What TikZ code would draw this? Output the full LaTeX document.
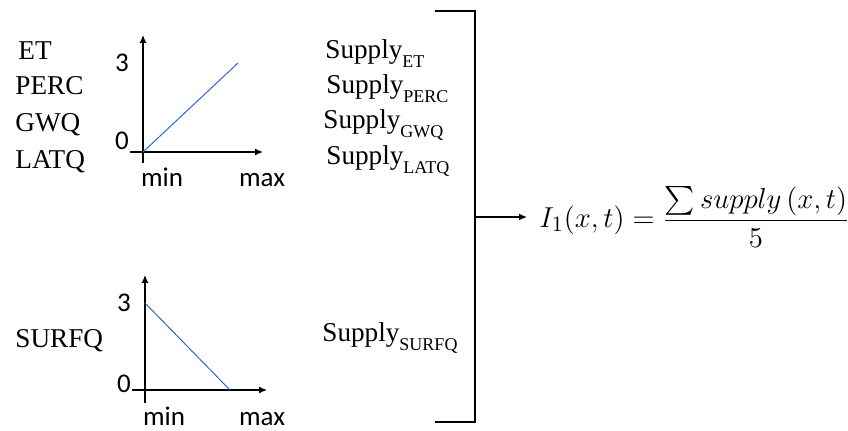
\documentclass[tikz,border=0pt]{standalone}
\usepackage{amsmath}
\usepackage{fontspec}
\setmainfont{Liberation Serif}
\newfontfamily\axisfont{Carlito}
\usetikzlibrary{arrows.meta,positioning}
\definecolor{lineblue}{RGB}{45,105,205}
\newcommand{\supplyof}[1]{Supply\raisebox{-0.3em}{\fontsize{9}{10}\selectfont #1}}

\begin{document}
\begin{tikzpicture}[x=0.5pt,y=-0.5pt,>={Latex[length=4pt,width=3.4pt]}]
\tikzset{var/.style={anchor=base west,inner sep=0pt,font=\fontsize{13.6}{15}\selectfont},
 sup/.style={anchor=base west,inner sep=0pt,font=\fontsize{13.6}{15}\selectfont},
 tick/.style={inner sep=0pt,font=\axisfont\fontsize{13.5}{15}\selectfont},
 axis/.style={->,line width=0.55pt},
 curve/.style={lineblue,line width=0.5pt}}
\useasboundingbox (0,0) rectangle (848,431);
% variable names
\node[var] (et) at (18,60) {ET};
\node[var] (perc) at (15,95) {PERC};
\node[var] (gwq) at (15,132) {GWQ};
\node[var] (latq) at (15,169) {LATQ};
\node[var] (surfq) at (15,348) {SURFQ};
% increasing graph
\coordinate (o1) at (143,152);
\draw[axis] (143,163) -- (143,35);
\draw[axis] (130,152) -- (263,152);
\draw[curve] (o1) -- (238,63);
\node[tick] (three1) at (122,63) {3};
\node[tick] (zero1) at (122,141) {0};
\node[tick,anchor=base] (min1) at (162,187) {min};
\node[tick,anchor=base] (max1) at (262,187) {max};
% decreasing graph
\coordinate (o2) at (145,390);
\draw[axis] (145,403) -- (145,275);
\draw[axis] (132,390) -- (267,390);
\draw[curve] (145,303) -- (230,390);
\node[tick] (three2) at (124,303) {3};
\node[tick] (zero2) at (124,384) {0};
\node[tick,anchor=base] (min2) at (164,426) {min};
\node[tick,anchor=base] (max2) at (262,426) {max};
% supply terms
\node[sup] (set) at (325,59) {\supplyof{ET}};
\node[sup] (sperc) at (326,94) {\supplyof{PERC}};
\node[sup] (sgwq) at (323,129) {\supplyof{GWQ}};
\node[sup] (slatq) at (326,165) {\supplyof{LATQ}};
\node[sup] (ssurfq) at (322,342) {\supplyof{SURFQ}};
% bracket and result
\coordinate (bt) at (435,11);
\coordinate (bb) at (435,422);
\coordinate (bm) at (475,217);
\draw[line width=0.6pt] (bt) -| (bm) |- (bb);
\node[anchor=west,inner sep=6pt,font=\fontsize{15}{18}\selectfont] (idx) at (527,217)
 {$I_1(x,t)=\dfrac{\sum supply\,(x,t)}{5}$};
\draw[->,line width=0.6pt] (bm) -- (idx);
\end{tikzpicture}
\end{document}
